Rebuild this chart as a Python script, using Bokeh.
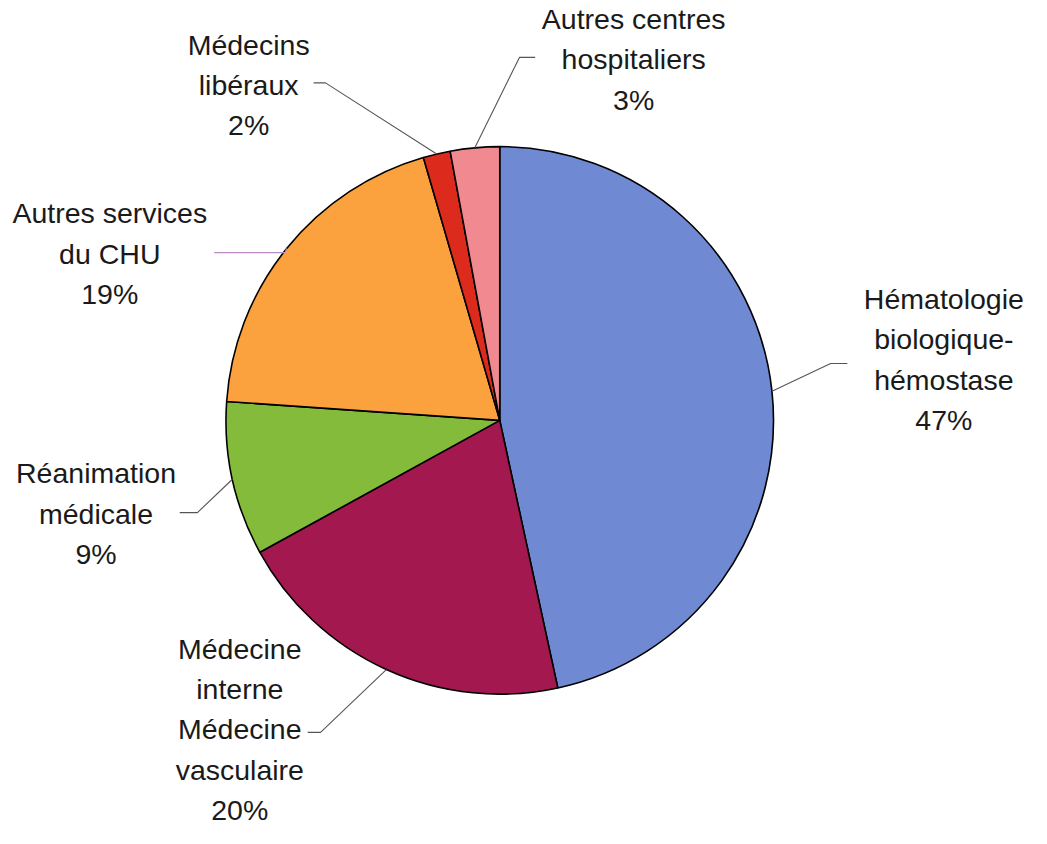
import math
from bokeh.plotting import figure
from bokeh.models import Range1d, ColumnDataSource
from bokeh.core.properties import value
from bokeh.embed import file_html
from bokeh.resources import INLINE

# ---- data ----
categories = [
    "Hématologie\nbiologique-\nhémostase",
    "Médecine\ninterne\nMédecine\nvasculaire",
    "Réanimation\nmédicale",
    "Autres services\ndu CHU",
    "Médecins\nlibéraux",
    "Autres centres\nhospitaliers",
]
shares = [46.6, 20.4, 9.1, 19.4, 1.6, 2.9]
colors = ["#6f89d3", "#a3184f", "#84bb3b", "#fba23f", "#dc2a1c", "#f08a90"]

# ---- layout (reference pixel space 1047x844, y downward) ----
W, H = 1031, 828
RW, RH = 1047, 844
SX, SY = W / RW, H / RH
CX, CY, R = 507, 428, 278
label_pos = [(958, 366), (243, 743), (97, 523), (111, 258), (252, 86), (643, 60)]
elbows = [(843, 370), (325, 746), (200, 522), (289, 257), (330, 84), (527, 58)]
ends_x = [860, 312, 182, 217, 318, 543]
leader_colors = ["#555555", "#555555", "#555555", "#b98cc4", "#555555", "#555555"]


def Y(y):
    return RH - y


p = figure(width=W, height=H, output_backend="svg", toolbar_location=None,
           x_range=Range1d(0, RW), y_range=Range1d(0, RH),
           min_border=0, outline_line_color=None)
p.axis.visible = False
p.grid.visible = False
p.background_fill_color = "white"
p.border_fill_color = "white"

total = sum(shares)
starts, ends, mids = [], [], []
cum = 0.0
for s in shares:
    a0 = math.pi / 2 - 2 * math.pi * cum / total
    cum += s
    a1 = math.pi / 2 - 2 * math.pi * cum / total
    starts.append(a1)
    ends.append(a0)
    mids.append((a0 + a1) / 2)

src = ColumnDataSource(dict(start=starts, end=ends, color=colors))
p.wedge(x=CX, y=Y(CY), radius=R, start_angle="start", end_angle="end",
        direction="anticlock", fill_color="color", line_color="black",
        line_width=1.6, source=src)

# leader lines (start on the drawn pie edge at each slice's mid-angle)
for i, m in enumerate(mids):
    sx = CX + R * math.cos(m)
    sy = CY - R * math.sin(m) * SX / SY
    ex, ey = elbows[i]
    p.line([sx, ex, ends_x[i]], [Y(sy), Y(ey), Y(ey)],
           line_color=leader_colors[i], line_width=1.1)

# labels
texts = [f"{c}\n{round(s)}%" for c, s in zip(categories, shares)]
lsrc = ColumnDataSource(dict(x=[lp[0] for lp in label_pos],
                             y=[Y(lp[1]) for lp in label_pos], t=texts))
p.text(x="x", y="y", text="t", source=lsrc, text_align="center",
       text_baseline="middle", text_font=value("Liberation Sans"),
       text_font_size="28.5px", text_line_height=1.255, text_color="#1a1a1a")

open("out.html", "w").write(file_html(p, INLINE))
